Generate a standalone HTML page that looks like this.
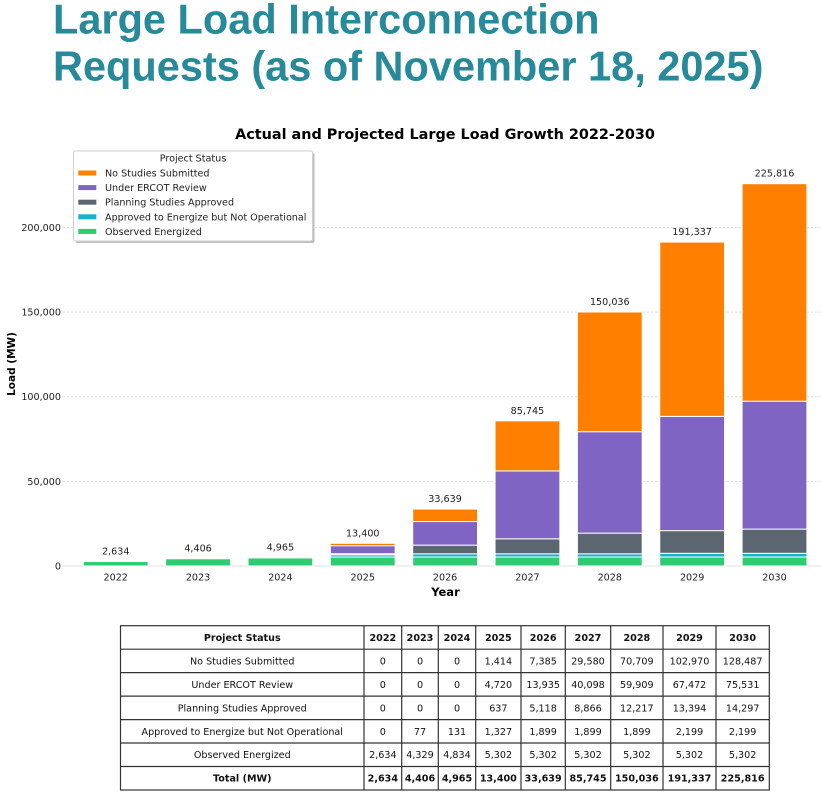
<!DOCTYPE html>
<html>
<head>
<meta charset="utf-8">
<style>
  html,body{margin:0;padding:0;background:#fff;}
  svg{display:block;}
  .t{font-family:"DejaVu Sans","Liberation Sans",sans-serif;}
</style>
</head>
<body>
<svg width="821" height="808" viewBox="0 0 821 808" xmlns="http://www.w3.org/2000/svg">
  <rect x="0" y="0" width="821" height="808" fill="#fff"/>
  <!-- Slide title -->
  <g font-family="'Liberation Sans', Arial, sans-serif" font-weight="bold" font-size="41.5" fill="#268a9a">
    <text x="53" y="33.5">Large Load Interconnection</text>
    <text x="53" y="80.5">Requests (as of November 18, 2025)</text>
  </g>

  <!-- Chart title -->
  <text class="t" x="445" y="139" text-anchor="middle" font-size="14.4" font-weight="bold" fill="#000">Actual and Projected Large Load Growth 2022-2030</text>

  <!-- Gridlines -->
  <g stroke="#d9d9d9" stroke-width="0.8" stroke-dasharray="2.5,1.5">
    <line x1="63" y1="481.35" x2="821" y2="481.35"/>
    <line x1="63" y1="396.7" x2="821" y2="396.7"/>
    <line x1="63" y1="312.05" x2="821" y2="312.05"/>
    <line x1="63" y1="227.4" x2="821" y2="227.4"/>
  </g>
  <line x1="63" y1="566" x2="821" y2="566" stroke="#e0e0e0" stroke-width="1"/>

  <!-- Y tick labels -->
  <g class="t" font-size="9.6" fill="#222" text-anchor="end">
    <text x="61" y="569.5">0</text>
    <text x="61" y="484.8">50,000</text>
    <text x="61" y="400.2">100,000</text>
    <text x="61" y="315.5">150,000</text>
    <text x="61" y="230.9">200,000</text>
  </g>
  <text class="t" transform="translate(15,364) rotate(-90)" text-anchor="middle" font-size="10.5" font-weight="bold" fill="#000">Load (MW)</text>

  <!-- Bars -->
  <g stroke="#fff" stroke-width="1">
    <!-- 2022 -->
    <rect x="83.3" y="561.54" width="64.8" height="4.46" fill="#2ecc71"/>
    <!-- 2023 -->
    <rect x="165.65" y="558.67" width="64.8" height="7.33" fill="#2ecc71"/>
    <rect x="165.65" y="558.54" width="64.8" height="0.13" fill="#17b3cb"/>
    <!-- 2024 -->
    <rect x="248" y="557.82" width="64.8" height="8.18" fill="#2ecc71"/>
    <rect x="248" y="557.59" width="64.8" height="0.23" fill="#17b3cb"/>
    <!-- 2025 -->
    <rect x="330.35" y="557.02" width="64.8" height="8.98" fill="#2ecc71"/>
    <rect x="330.35" y="554.78" width="64.8" height="2.24" fill="#17b3cb"/>
    <rect x="330.35" y="553.70" width="64.8" height="1.08" fill="#5c6670"/>
    <rect x="330.35" y="545.71" width="64.8" height="7.99" fill="#7f64c3"/>
    <rect x="330.35" y="543.31" width="64.8" height="2.40" fill="#ff8000"/>
    <!-- 2026 -->
    <rect x="412.7" y="557.02" width="64.8" height="8.98" fill="#2ecc71"/>
    <rect x="412.7" y="553.81" width="64.8" height="3.21" fill="#17b3cb"/>
    <rect x="412.7" y="545.14" width="64.8" height="8.67" fill="#5c6670"/>
    <rect x="412.7" y="521.55" width="64.8" height="23.59" fill="#7f64c3"/>
    <rect x="412.7" y="509.05" width="64.8" height="12.50" fill="#ff8000"/>
    <!-- 2027 -->
    <rect x="495.05" y="557.02" width="64.8" height="8.98" fill="#2ecc71"/>
    <rect x="495.05" y="553.81" width="64.8" height="3.21" fill="#17b3cb"/>
    <rect x="495.05" y="538.80" width="64.8" height="15.01" fill="#5c6670"/>
    <rect x="495.05" y="470.91" width="64.8" height="67.89" fill="#7f64c3"/>
    <rect x="495.05" y="420.83" width="64.8" height="50.08" fill="#ff8000"/>
    <!-- 2028 -->
    <rect x="577.4" y="557.02" width="64.8" height="8.98" fill="#2ecc71"/>
    <rect x="577.4" y="553.81" width="64.8" height="3.21" fill="#17b3cb"/>
    <rect x="577.4" y="533.13" width="64.8" height="20.68" fill="#5c6670"/>
    <rect x="577.4" y="431.70" width="64.8" height="101.43" fill="#7f64c3"/>
    <rect x="577.4" y="311.99" width="64.8" height="119.71" fill="#ff8000"/>
    <!-- 2029 -->
    <rect x="659.75" y="557.02" width="64.8" height="8.98" fill="#2ecc71"/>
    <rect x="659.75" y="553.30" width="64.8" height="3.72" fill="#17b3cb"/>
    <rect x="659.75" y="530.62" width="64.8" height="22.68" fill="#5c6670"/>
    <rect x="659.75" y="416.39" width="64.8" height="114.23" fill="#7f64c3"/>
    <rect x="659.75" y="242.07" width="64.8" height="174.32" fill="#ff8000"/>
    <!-- 2030 -->
    <rect x="742.1" y="557.02" width="64.8" height="8.98" fill="#2ecc71"/>
    <rect x="742.1" y="553.30" width="64.8" height="3.72" fill="#17b3cb"/>
    <rect x="742.1" y="529.10" width="64.8" height="24.20" fill="#5c6670"/>
    <rect x="742.1" y="401.22" width="64.8" height="127.88" fill="#7f64c3"/>
    <rect x="742.1" y="183.69" width="64.8" height="217.53" fill="#ff8000"/>
  </g>

  <!-- Value labels -->
  <g class="t" font-size="9.6" fill="#222" text-anchor="middle">
    <text x="115.7" y="554.5">2,634</text>
    <text x="198.05" y="551.5">4,406</text>
    <text x="280.4" y="550.6">4,965</text>
    <text x="362.75" y="536.3">13,400</text>
    <text x="445.1" y="502">33,639</text>
    <text x="527.45" y="413.8">85,745</text>
    <text x="609.8" y="305">150,036</text>
    <text x="692.15" y="235">191,337</text>
    <text x="774.5" y="176.7">225,816</text>
  </g>

  <!-- X tick labels -->
  <g class="t" font-size="9.6" fill="#222" text-anchor="middle">
    <text x="115.7" y="580.3">2022</text>
    <text x="198.05" y="580.3">2023</text>
    <text x="280.4" y="580.3">2024</text>
    <text x="362.75" y="580.3">2025</text>
    <text x="445.1" y="580.3">2026</text>
    <text x="527.45" y="580.3">2027</text>
    <text x="609.8" y="580.3">2028</text>
    <text x="692.15" y="580.3">2029</text>
    <text x="774.5" y="580.3">2030</text>
  </g>
  <text class="t" x="445.5" y="596" text-anchor="middle" font-size="11.5" font-weight="bold" fill="#000">Year</text>

  <!-- Legend -->
  <rect x="75.5" y="153" width="239" height="90" rx="2" fill="#8a8a8a" opacity="0.55"/>
  <rect x="73.5" y="151" width="239" height="90" rx="2" fill="#fff" stroke="#cfcfcf" stroke-width="1"/>
  <g class="t" font-size="9.6" fill="#222">
    <text x="193" y="161.7" text-anchor="middle">Project Status</text>
    <rect x="78.3" y="170.5" width="18" height="5" fill="#ff8000"/>
    <text x="105" y="176.5">No Studies Submitted</text>
    <rect x="78.3" y="185.1" width="18" height="5" fill="#7f64c3"/>
    <text x="105" y="191.1">Under ERCOT Review</text>
    <rect x="78.3" y="199.7" width="18" height="5" fill="#5c6670"/>
    <text x="105" y="205.7">Planning Studies Approved</text>
    <rect x="78.3" y="214.3" width="18" height="5" fill="#17b3cb"/>
    <text x="105" y="220.3">Approved to Energize but Not Operational</text>
    <rect x="78.3" y="228.9" width="18" height="5" fill="#2ecc71"/>
    <text x="105" y="234.9">Observed Energized</text>
  </g>

  <!-- Table -->
  <g stroke="#333" stroke-width="1.2" fill="none">
    <rect x="120.5" y="625.7" width="648.8" height="164.3"/>
    <line x1="120.5" y1="649.2" x2="769.3" y2="649.2"/>
    <line x1="120.5" y1="672.6" x2="769.3" y2="672.6"/>
    <line x1="120.5" y1="696.1" x2="769.3" y2="696.1"/>
    <line x1="120.5" y1="719.6" x2="769.3" y2="719.6"/>
    <line x1="120.5" y1="743.0" x2="769.3" y2="743.0"/>
    <line x1="120.5" y1="766.5" x2="769.3" y2="766.5"/>
    <line x1="364" y1="625.7" x2="364" y2="790"/>
    <line x1="401.7" y1="625.7" x2="401.7" y2="790"/>
    <line x1="438.3" y1="625.7" x2="438.3" y2="790"/>
    <line x1="475.7" y1="625.7" x2="475.7" y2="790"/>
    <line x1="521" y1="625.7" x2="521" y2="790"/>
    <line x1="565.3" y1="625.7" x2="565.3" y2="790"/>
    <line x1="610.7" y1="625.7" x2="610.7" y2="790"/>
    <line x1="663" y1="625.7" x2="663" y2="790"/>
    <line x1="716" y1="625.7" x2="716" y2="790"/>
  </g>
  <g class="t" font-size="9.6" fill="#111" text-anchor="middle">
    <!-- header -->
    <g font-weight="bold">
      <text x="242.25" y="640.9">Project Status</text>
      <text x="382.85" y="640.9">2022</text>
      <text x="420" y="640.9">2023</text>
      <text x="457" y="640.9">2024</text>
      <text x="498.35" y="640.9">2025</text>
      <text x="543.15" y="640.9">2026</text>
      <text x="588" y="640.9">2027</text>
      <text x="636.85" y="640.9">2028</text>
      <text x="689.5" y="640.9">2029</text>
      <text x="742.65" y="640.9">2030</text>
    </g>
    <!-- row 1 -->
    <text x="242.25" y="664.4">No Studies Submitted</text>
    <text x="382.85" y="664.4">0</text>
    <text x="420" y="664.4">0</text>
    <text x="457" y="664.4">0</text>
    <text x="498.35" y="664.4">1,414</text>
    <text x="543.15" y="664.4">7,385</text>
    <text x="588" y="664.4">29,580</text>
    <text x="636.85" y="664.4">70,709</text>
    <text x="689.5" y="664.4">102,970</text>
    <text x="742.65" y="664.4">128,487</text>
    <!-- row 2 -->
    <text x="242.25" y="687.8">Under ERCOT Review</text>
    <text x="382.85" y="687.8">0</text>
    <text x="420" y="687.8">0</text>
    <text x="457" y="687.8">0</text>
    <text x="498.35" y="687.8">4,720</text>
    <text x="543.15" y="687.8">13,935</text>
    <text x="588" y="687.8">40,098</text>
    <text x="636.85" y="687.8">59,909</text>
    <text x="689.5" y="687.8">67,472</text>
    <text x="742.65" y="687.8">75,531</text>
    <!-- row 3 -->
    <text x="242.25" y="711.3">Planning Studies Approved</text>
    <text x="382.85" y="711.3">0</text>
    <text x="420" y="711.3">0</text>
    <text x="457" y="711.3">0</text>
    <text x="498.35" y="711.3">637</text>
    <text x="543.15" y="711.3">5,118</text>
    <text x="588" y="711.3">8,866</text>
    <text x="636.85" y="711.3">12,217</text>
    <text x="689.5" y="711.3">13,394</text>
    <text x="742.65" y="711.3">14,297</text>
    <!-- row 4 -->
    <text x="242.25" y="734.8">Approved to Energize but Not Operational</text>
    <text x="382.85" y="734.8">0</text>
    <text x="420" y="734.8">77</text>
    <text x="457" y="734.8">131</text>
    <text x="498.35" y="734.8">1,327</text>
    <text x="543.15" y="734.8">1,899</text>
    <text x="588" y="734.8">1,899</text>
    <text x="636.85" y="734.8">1,899</text>
    <text x="689.5" y="734.8">2,199</text>
    <text x="742.65" y="734.8">2,199</text>
    <!-- row 5 -->
    <text x="242.25" y="758.2">Observed Energized</text>
    <text x="382.85" y="758.2">2,634</text>
    <text x="420" y="758.2">4,329</text>
    <text x="457" y="758.2">4,834</text>
    <text x="498.35" y="758.2">5,302</text>
    <text x="543.15" y="758.2">5,302</text>
    <text x="588" y="758.2">5,302</text>
    <text x="636.85" y="758.2">5,302</text>
    <text x="689.5" y="758.2">5,302</text>
    <text x="742.65" y="758.2">5,302</text>
    <!-- total -->
    <g font-weight="bold">
      <text x="242.25" y="781.7">Total (MW)</text>
      <text x="382.85" y="781.7">2,634</text>
      <text x="420" y="781.7">4,406</text>
      <text x="457" y="781.7">4,965</text>
      <text x="498.35" y="781.7">13,400</text>
      <text x="543.15" y="781.7">33,639</text>
      <text x="588" y="781.7">85,745</text>
      <text x="636.85" y="781.7">150,036</text>
      <text x="689.5" y="781.7">191,337</text>
      <text x="742.65" y="781.7">225,816</text>
    </g>
  </g>
</svg>
</body>
</html>
